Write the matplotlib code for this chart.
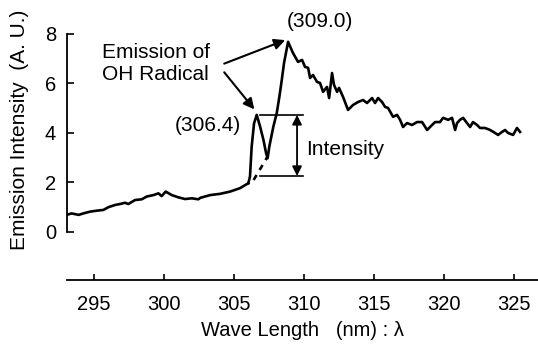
import matplotlib
matplotlib.use('Agg')
import matplotlib.pyplot as plt
from matplotlib import rcParams

rcParams['font.family'] = ['Liberation Sans', 'DejaVu Sans']
rcParams['font.size'] = 14

# spectrum: wavelength (nm), emission intensity (A. U.)
wave_base = [293.05, 293.4, 293.9, 294.24, 294.71, 295.19, 295.67, 296.02, 296.5, 296.86,
             297.21, 297.45, 297.93, 298.41, 298.76, 299.24, 299.6, 299.83, 300.12, 300.55,
             301.02, 301.5, 301.98, 302.45, 302.6, 303.29, 304.0, 304.71, 305.43, 306.02]
int_base = [0.69, 0.75, 0.69, 0.75, 0.82, 0.86, 0.89, 1.0, 1.09, 1.13,
            1.18, 1.13, 1.29, 1.32, 1.43, 1.49, 1.56, 1.45, 1.63, 1.49,
            1.4, 1.33, 1.36, 1.32, 1.38, 1.49, 1.54, 1.63, 1.77, 1.97]

wave_peak = [306.02, 306.14, 306.26, 306.43, 306.62, 306.86, 307.1, 307.29, 307.4, 307.52,
             307.81, 308.05, 308.24, 308.41, 308.57, 308.86, 309.21, 309.57, 309.86, 310.07,
             310.29, 310.43, 310.64, 310.93, 311.14, 311.36, 311.64, 311.79, 312.0, 312.14,
             312.36, 312.5, 312.79, 313.14, 313.5, 313.86, 314.21, 314.5, 314.86, 315.07,
             315.29, 315.57, 315.79, 316.0, 316.36, 316.64, 316.86, 317.07, 317.36, 317.71,
             318.07, 318.43, 318.79, 319.14, 319.36, 319.71, 319.93, 320.29, 320.57, 320.79,
             320.93, 321.14, 321.36, 321.64, 321.86, 322.07, 322.36, 322.57, 322.93, 323.29,
             323.64, 323.86, 324.14, 324.36, 324.57, 324.93, 325.21, 325.43]
int_peak = [1.97, 2.24, 3.45, 4.39, 4.73, 4.26, 3.72, 3.18, 2.98, 3.45,
            4.26, 4.8, 5.47, 6.14, 6.82, 7.68, 7.23, 6.87, 6.95, 6.67,
            6.63, 6.22, 6.34, 6.06, 6.02, 5.66, 5.86, 5.41, 6.42, 5.94,
            5.66, 5.82, 5.45, 4.93, 5.13, 5.25, 5.33, 5.21, 5.41, 5.21,
            5.41, 5.25, 5.05, 5.01, 4.65, 4.73, 4.53, 4.24, 4.4, 4.32,
            4.44, 4.44, 4.12, 4.32, 4.44, 4.44, 4.61, 4.53, 4.61, 4.12,
            4.4, 4.53, 4.61, 4.4, 4.24, 4.44, 4.32, 4.2, 4.2, 4.12,
            4.0, 3.92, 4.04, 4.12, 4.0, 3.92, 4.2, 4.04]

# dashed baseline under the 306.4 peak
wave_dash = [306.4, 307.35]
int_dash = [2.1, 3.0]

x_ticks = [295, 300, 305, 310, 315, 320, 325]
y_ticks = [0, 2, 4, 6, 8]

peak_low, peak_high = 2.26, 4.73


fig = plt.figure(figsize=(5.38, 3.45), dpi=100)
ax = fig.add_axes([67 / 538, 65 / 345, 471 / 538, 280 / 345])

ax.plot(wave_base, int_base, color='black', linewidth=1.9, solid_joinstyle='round')
ax.plot(wave_peak, int_peak, color='black', linewidth=1.9, solid_joinstyle='round')
ax.plot(wave_dash, int_dash, color='black', linewidth=1.9, linestyle=(0, (2.2, 2.2)))

ax.set_xlim(293.07, 326.71)
ax.set_ylim(-1.94, 9.37)

for s in ['top', 'right']:
    ax.spines[s].set_visible(False)
ax.spines['left'].set_bounds(0, 8)
ax.spines['left'].set_linewidth(1.3)
ax.spines['bottom'].set_linewidth(1.3)

ax.set_xticks(x_ticks)
ax.set_yticks(y_ticks)
ax.tick_params(axis='x', direction='in', length=4, width=1.2, pad=11, labelsize=14.5)
ax.tick_params(axis='y', direction='in', length=5, width=1.2, pad=8, labelsize=14.5)

ax.set_xlabel('Wave Length   (nm) : \u03bb', fontsize=14.5, labelpad=5)
ax.set_ylabel('Emission Intensity  (A. U.)', fontsize=15)
ax.yaxis.set_label_coords(-0.08, 0.535)

# intensity bracket
ax.plot([306.86, 309.93], [peak_high, peak_high], color='black', linewidth=1.2)
ax.plot([306.86, 309.93], [peak_low, peak_low], color='black', linewidth=1.2)
ax.annotate('', xy=(309.5, peak_high), xytext=(309.5, peak_low),
            arrowprops=dict(arrowstyle='<|-|>', color='black', lw=1.3,
                            mutation_scale=14, shrinkA=0, shrinkB=0))
ax.text(310.15, 3.33, 'Intensity', fontsize=15, va='center', ha='left')

# peak labels
ax.text(311.1, 8.5, '(309.0)', fontsize=15, ha='center', va='center')
ax.text(303.15, 4.3, '(306.4)', fontsize=15, ha='center', va='center')

ax.text(295.6, 6.8, 'Emission of\nOH Radical', fontsize=15, ha='left', va='center',
        linespacing=1.2)
ax.annotate('', xy=(308.65, 7.75), xytext=(304.3, 6.8),
            arrowprops=dict(arrowstyle='-|>', color='black', lw=1.5,
                            mutation_scale=16, shrinkA=0, shrinkB=0))
ax.annotate('', xy=(306.45, 4.95), xytext=(304.3, 6.45),
            arrowprops=dict(arrowstyle='-|>', color='black', lw=1.5,
                            mutation_scale=16, shrinkA=0, shrinkB=0))

fig.savefig('out.png', dpi=100)
